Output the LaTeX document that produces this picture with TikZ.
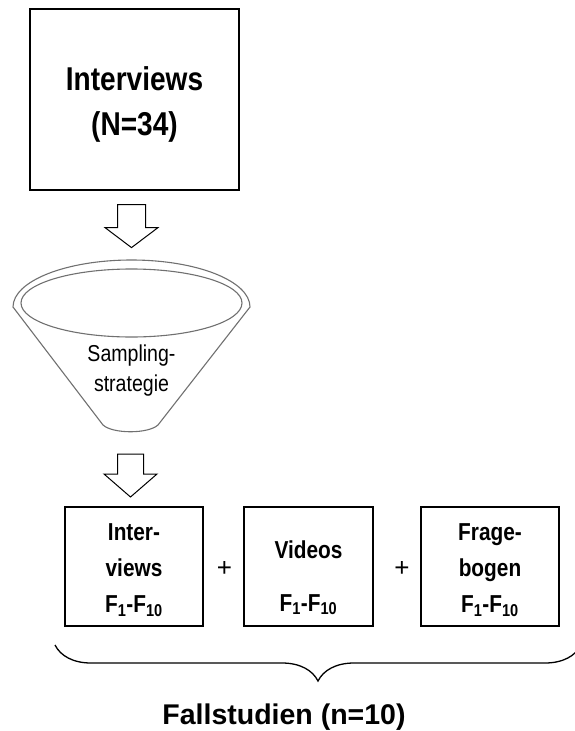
\documentclass[tikz,border=0pt]{standalone}
\usepackage{fontspec}
\setmainfont{Liberation Sans}
\newfontfamily\narrowfont[FakeStretch=0.85]{Liberation Sans}
\usepackage{tikz}
\usetikzlibrary{calc, positioning, decorations.pathreplacing}

\definecolor{funnelgray}{RGB}{112,112,112}
\newcommand{\firstlinestrut}[1]{\rule{0pt}{#1}}

\tikzset{
	topbox/.style = {draw, line width=1.2pt, minimum width=209, minimum height=181, inner sep=0pt},
	toptext/.style = {align=center, inner sep=0pt, font=\narrowfont\bfseries\fontsize{33}{45}\selectfont},
	databox/.style = {draw, line width=1.2pt, minimum width=138, minimum height=119, inner sep=0pt, align=center, font=\narrowfont\bfseries\fontsize{24.5}{36}\selectfont},
	plustext/.style = {inner sep=0pt, font=\fontsize{26}{26}\selectfont},
	hollowarrow/.style = {draw, line width=1pt, fill=white, line join=miter},
	funnelline/.style = {draw=funnelgray, line width=1.1pt},
	funneltext/.style = {align=center, inner sep=0pt, font=\narrowfont\fontsize{23}{30}\selectfont}
}

\begin{document}
\begin{tikzpicture}[x=1pt, y=-1pt]
	\clip (0,0) rectangle (575,731);

	% Ausgangsdaten
	\node [topbox] (interviews) at (134.5,99.5) {};
	\node [toptext] (interviewstext) at ($(interviews.center)+(0,5)$) {Interviews\\(N=34)};

	% Pfeil zum Trichter
	\draw [hollowarrow] ($(interviews.south)+(-17,14)$) coordinate (arrowOne) -- ++(28,0) -- ++(0,23) -- ++(12.5,0) -- ++(-26.5,20) -- ++(-26.5,-20) -- ++(12.5,0) -- cycle;

	% Trichter
	\begin{scope}[funnelline]
		\draw (13,307) arc [start angle=180, end angle=360, x radius=118.5, y radius=47] -- (158,425) coordinate (funnelright) .. controls (148,434) and (113,434) .. (103,425) coordinate (funnelleft) -- cycle;
		\draw (131.5,303) ellipse [x radius=110.5, y radius=34];
	\end{scope}
	\node [funneltext] (sampling) at (131.5,371) {Sampling-\\strategie};

	% Pfeil zu den Fallstudien
	\draw [hollowarrow] ($(funnelleft)!0.5!(funnelright)+(-13,29)$) coordinate (arrowTwo) -- ++(26,0) -- ++(0,20) -- ++(13.5,0) -- ++(-26.5,23) -- ++(-26.5,-23) -- ++(13.5,0) -- cycle;

	% Datenquellen
	\node [databox] (intbox) at (134,566.5) {\firstlinestrut{24pt}Inter-\\views\\F\textsubscript{1}-F\textsubscript{10}};
	\node [databox, minimum width=129] (vidbox) at (308.5,566.5) {\firstlinestrut{40pt}Videos\\[17pt]F\textsubscript{1}-F\textsubscript{10}};
	\node [databox] (fragbox) at (490,566.5) {\firstlinestrut{24pt}Frage-\\bogen\\F\textsubscript{1}-F\textsubscript{10}};

	\node [plustext] (plusOne) at ($(intbox.east)!0.5!(vidbox.west)+(1,2)$) {+};
	\node [plustext] (plusTwo) at ($(vidbox.east)!0.5!(fragbox.west)+(5,2)$) {+};

	% Klammer
	\draw [decorate, decoration = {brace, mirror, amplitude=36}, line width=1.3pt] (55,645) coordinate (braceleft) -- (581,645) coordinate (braceright);
	\node [font=\bfseries\fontsize{28.5}{34}\selectfont] (fallstudien) at (284,717) {Fallstudien (n=10)};

\end{tikzpicture}
\end{document}
